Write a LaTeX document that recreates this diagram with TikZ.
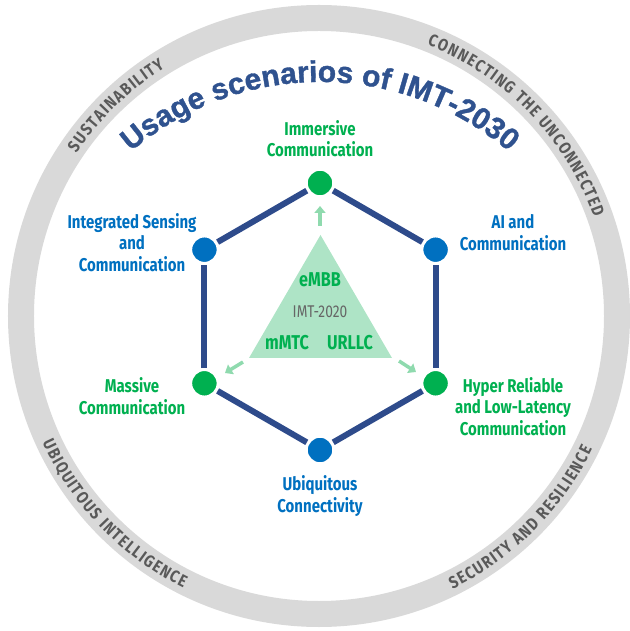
\documentclass[tikz,border=0pt]{standalone}
\usepackage{fontspec}
\usetikzlibrary{decorations.text,arrows.meta}
\setmainfont{Fira Sans}[FakeStretch=0.81]
\newfontfamily\titlefont{Liberation Sans}[BoldFeatures={FakeBold=1.2}]
\newfontfamily\ringfont{Fira Sans}[FakeStretch=0.85]

\definecolor{navy}{HTML}{2E4B8B}
\definecolor{ituBlue}{HTML}{0070C0}
\definecolor{ituGreen}{HTML}{00B050}
\definecolor{paleGreen}{HTML}{AEE4C6}
\definecolor{arrowGreen}{HTML}{8FDAAE}
\definecolor{ringGray}{HTML}{D9D9D9}
\definecolor{ringText}{HTML}{595959}
\definecolor{titleBlue}{HTML}{2F528F}

\tikzset{
  usagedot/.style={circle, draw=white, line width=3pt, minimum size=27.5pt, inner sep=0pt},
  bluedot/.style={usagedot, fill=ituBlue},
  greendot/.style={usagedot, fill=ituGreen},
  hexedge/.style={navy, line width=6pt},
  scenario/.style={align=center, font=\bfseries\fontsize{18.5}{21.5}\selectfont},
  inner/.style={ituGreen, font=\bfseries\fontsize{20}{20}\selectfont},
  growarrow/.style={arrowGreen, line width=3.5pt, -{Triangle[length=7pt,width=11pt]}},
  % letters are written apart, the font's word space is the letter gap
  ringlabel/.style={decoration={text along path, text align=center, text color=ringText,
    text={|\ringfont\bfseries\fontsize{17}{17}\selectfont\fontdimen2\font=1.4pt|#1}}, decorate}
}

\begin{document}
\begin{tikzpicture}[x=1pt,y=1pt]
\useasboundingbox (-319,-315) rectangle (310,316);

% outer ring
\draw[ringGray, line width=26pt] (0,0) circle[radius=298];
\path[ringlabel={S U S T A I N A B I L I T Y}]
  (164:292) arc[start angle=164, end angle=104, radius=292];
\path[ringlabel={C O N N E C T I N G {\kern3pt} T H E {\kern3pt} U N C O N N E C T E D}]
  (94:292) arc[start angle=94, end angle=-6, radius=292];
\path[ringlabel={U B I Q U I T O U S {\kern3pt} I N T E L L I G E N C E}]
  (179:304) arc[start angle=179, end angle=269, radius=304];
\path[ringlabel={S E C U R I T Y {\kern3pt} A N D {\kern3pt} R E S I L I E N C E}]
  (270:304) arc[start angle=270, end angle=360, radius=304];

% title
\path[decoration={text along path, text align=center, text color=titleBlue,
  text={|\titlefont\bfseries\fontsize{30}{30}\selectfont|Usage scenarios of IMT-2030}}, decorate]
  ([shift={(1,-57)}]150:291) arc[start angle=150, end angle=30, radius=291];

% IMT-2020 triangle
\fill[paleGreen] (1.5,81) -- (-70,-42) -- (73,-42) -- cycle;
\node[inner] (embb) at (1,36) {eMBB};
\node[black!60, font=\fontsize{17}{17}\selectfont] (imt) at (1,4) {IMT-2020};
\node[inner] (mmtc) at (-32,-27) {mMTC};
\node[inner] (urllc) at (31,-27) {URLLC};

\coordinate (upfrom) at (1,90);      \coordinate (upto) at (1,110);
\coordinate (leftfrom) at (-76,-46); \coordinate (leftto) at (-94,-57);
\coordinate (rightfrom) at (80,-45); \coordinate (rightto) at (97,-56);
\draw[growarrow] (upfrom) -- (upto);
\draw[growarrow] (leftfrom) -- (leftto);
\draw[growarrow] (rightfrom) -- (rightto);

% hexagon
\node[greendot] (immersive) at (1,133) {};
\node[bluedot] (sensing) at (-114.6,66.3) {};
\node[greendot] (massive) at (-114.6,-67.3) {};
\node[bluedot] (ubiquitous) at (1,-134) {};
\node[greendot] (hrllc) at (116.6,-67.3) {};
\node[bluedot] (ai) at (116.6,66.3) {};

\draw[hexedge] (immersive) -- (ai);
\draw[hexedge] (ai) -- (hrllc);
\draw[hexedge] (hrllc) -- (ubiquitous);
\draw[hexedge] (ubiquitous) -- (massive);
\draw[hexedge] (massive) -- (sensing);
\draw[hexedge] (sensing) -- (immersive);

\node[scenario, ituGreen] (immersive-text) at (1,177.5) {Immersive\\Communication};
\node[scenario, ituBlue] (sensing-text) at (-187,73.5) {Integrated Sensing\\and\\Communication};
\node[scenario, ituBlue] (ai-text) at (194,83.5) {AI and\\Communication};
\node[scenario, ituGreen] (massive-text) at (-187,-80) {Massive\\Communication};
\node[scenario, ituGreen] (hrllc-text) at (194,-90.5) {Hyper Reliable\\and Low-Latency\\Communication};
\node[scenario, ituBlue] (ubiquitous-text) at (1,-180) {Ubiquitous\\Connectivity};
\end{tikzpicture}
\end{document}
